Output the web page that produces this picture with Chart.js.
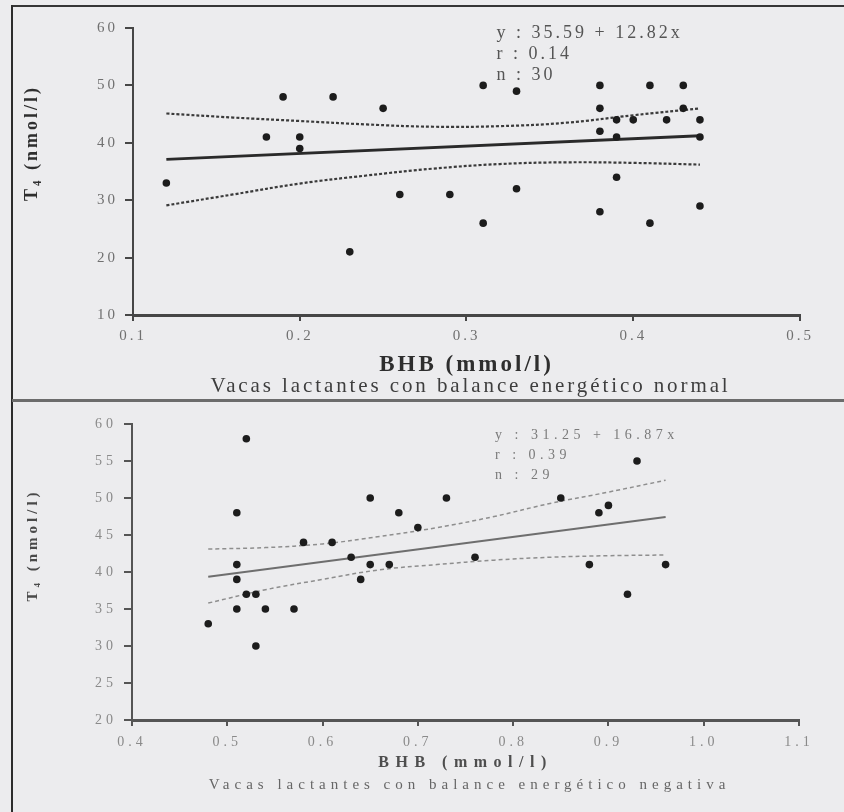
<!DOCTYPE html>
<html>
<head>
<meta charset="utf-8">
<script src="https://cdn.jsdelivr.net/npm/chart.js@4.4.1/dist/chart.umd.min.js"></script>
<style>
  body { margin: 0; background: #ececee; }
  #sheet { position: relative; width: 844px; height: 812px; background: #ececee; overflow: hidden; }
  canvas { position: absolute; left: 0; }
  #top { top: 0; }
  #bottom { top: 401px; }
  .rule { position: absolute; }
  .rule.top { left: 11px; top: 5px; width: 833px; height: 2px; background: #363636; }
  .rule.left { left: 11px; top: 5px; width: 2px; height: 807px; background: #2c2c2c; }
  .rule.mid { left: 12px; top: 399px; width: 832px; height: 3px; background: #6c6c6c; }
</style>
</head>
<body>
<div id="sheet">
  <canvas id="top" width="844" height="400"></canvas>
  <canvas id="bottom" width="844" height="411"></canvas>
  <div class="rule top"></div>
  <div class="rule left"></div>
  <div class="rule mid"></div>
</div>
<script>
// --- balance energético normal (n = 30)
let normBHB = [0.12, 0.18, 0.19, 0.20, 0.20, 0.22, 0.23, 0.25, 0.26, 0.29, 0.31, 0.31, 0.33, 0.33, 0.38,
               0.38, 0.38, 0.38, 0.39, 0.39, 0.39, 0.40, 0.41, 0.41, 0.42, 0.43, 0.43, 0.44, 0.44, 0.44];
let normT4 = [33, 41, 48, 41, 39, 48, 21, 46, 31, 31, 50, 26, 49, 32, 50,
              46, 42, 28, 44, 41, 34, 44, 50, 26, 44, 50, 46, 44, 41, 29];
let normFit = [35.59, 12.82];      // a, b
let normR = 0.14;
let normRange = [0.12, 0.44];
let normBandX = [0.12, 0.16, 0.20, 0.24, 0.28, 0.32, 0.36, 0.40, 0.44];
let normUpper = [45.1, 44.4, 43.8, 43.2, 42.8, 42.9, 43.5, 44.8, 46.0];
let normLower = [29.1, 31.0, 32.9, 34.3, 35.5, 36.3, 36.6, 36.5, 36.2];
let normXTicks = [0.1, 0.2, 0.3, 0.4, 0.5];
let normXLabels = ['0.1', '0.2', '0.3', '0.4', '0.5'];
let normYTicks = [10, 20, 30, 40, 50, 60];

// --- balance energético negativo (n = 29)
let negBHB = [0.48, 0.51, 0.51, 0.51, 0.51, 0.52, 0.52, 0.53, 0.53, 0.54, 0.57, 0.58, 0.61, 0.63, 0.64,
              0.65, 0.65, 0.67, 0.68, 0.70, 0.73, 0.76, 0.85, 0.88, 0.89, 0.90, 0.92, 0.93, 0.96];
let negT4 = [33, 48, 41, 39, 35, 58, 37, 37, 30, 35, 35, 44, 44, 42, 39,
             50, 41, 41, 48, 46, 50, 42, 50, 41, 48, 49, 37, 55, 41];
let negFit = [31.25, 16.87];
let negR = 0.39;
let negRange = [0.48, 0.96];
let negBandX = [0.48, 0.54, 0.60, 0.66, 0.72, 0.78, 0.84, 0.90, 0.96];
let negUpper = [43.1, 43.3, 43.8, 44.8, 46.0, 47.5, 49.3, 50.8, 52.4];
let negLower = [35.8, 37.6, 39.0, 40.3, 41.0, 41.6, 42.0, 42.2, 42.3];
let negXTicks = [0.4, 0.5, 0.6, 0.7, 0.8, 0.9, 1.0, 1.1];
let negXLabels = ['0.4', '0.5', '0.6', '0.7', '0.8', '0.9', '1.0', '1.1'];
let negYTicks = [20, 25, 30, 35, 40, 45, 50, 55, 60];

const SERIF = "'Liberation Serif', 'Times New Roman', serif";

function pairs(xs, ys) {
  return xs.map((x, i) => ({ x: x, y: ys[i] }));
}

function fitLine(fit, range) {
  return range.map(x => ({ x: x, y: fit[0] + fit[1] * x }));
}

// axis titles, caption and the regression box are drawn here so the
// letter spacing of the scanned figure can be kept
const panelText = {
  id: 'panelText',
  beforeUpdate(chart, args, opts) { chart.ctx.letterSpacing = opts.tickSpacing; },
  beforeDraw(chart, args, opts) { chart.ctx.letterSpacing = opts.tickSpacing; },
  afterDraw(chart, args, opts) {
    let ctx = chart.ctx;
    let a = chart.chartArea;
    let put = (text, x, y, t, align, rotate) => {
      ctx.save();
      ctx.letterSpacing = t.spacing;
      ctx.font = t.font;
      ctx.fillStyle = t.color;
      ctx.textAlign = align;
      ctx.textBaseline = 'middle';
      ctx.translate(x, y);
      if (rotate) ctx.rotate(-Math.PI / 2);
      ctx.fillText(text, 0, 0);
      ctx.restore();
    };
    let cx = (a.left + a.right) / 2;
    put(opts.xTitle.text, cx, a.bottom + opts.xTitle.dy, opts.xTitle, 'center');
    put(opts.caption.text, cx + 4, a.bottom + opts.caption.dy, opts.caption, 'center');
    put(opts.yTitle.text, opts.yTitle.x, a.top + opts.yTitle.dy, opts.yTitle, 'center', true);
    let bx = chart.scales.x.getPixelForValue(opts.box.at);
    opts.box.lines.forEach((line, i) => {
      put(line, bx, a.top + opts.box.dy + i * opts.box.gap, opts.box, 'left');
    });
  }
};

function makeChart(id, cfg) {
  let axisColor = cfg.axisColor;
  return new Chart(document.getElementById(id), {
    type: 'scatter',
    data: {
      datasets: [
        {
          data: pairs(cfg.bhb, cfg.t4),
          pointRadius: 3.8,
          pointBackgroundColor: '#1c1c1c',
          pointBorderWidth: 0,
          order: 0
        },
        {
          data: fitLine(cfg.fit, cfg.range),
          showLine: true,
          pointRadius: 0,
          borderColor: cfg.lineColor,
          borderWidth: cfg.lineWidth,
          order: 1
        },
        {
          data: pairs(cfg.bandX, cfg.upper),
          showLine: true,
          pointRadius: 0,
          tension: 0.4,
          borderColor: cfg.bandColor,
          borderWidth: cfg.bandWidth,
          borderDash: cfg.dash,
          order: 2
        },
        {
          data: pairs(cfg.bandX, cfg.lower),
          showLine: true,
          pointRadius: 0,
          tension: 0.4,
          borderColor: cfg.bandColor,
          borderWidth: cfg.bandWidth,
          borderDash: cfg.dash,
          order: 2
        }
      ]
    },
    options: {
      responsive: false,
      devicePixelRatio: 1,
      animation: false,
      layout: { padding: cfg.padding },
      plugins: {
        legend: { display: false },
        tooltip: { enabled: false },
        panelText: cfg.text
      },
      scales: {
        x: {
          type: 'linear',
          min: cfg.xTicks[0],
          max: cfg.xTicks[cfg.xTicks.length - 1],
          afterBuildTicks: s => { s.ticks = cfg.xTicks.map(v => ({ value: v })); },
          afterFit: s => { s.height = cfg.xHeight; },
          border: { color: axisColor, width: cfg.xAxisWidth },
          grid: { drawOnChartArea: false, tickLength: 6, color: axisColor, lineWidth: 2 },
          ticks: {
            padding: cfg.xPad,
            maxRotation: 0,
            color: cfg.tickColor,
            font: { family: SERIF, size: cfg.tickSize },
            callback: (v, i) => cfg.xLabels[i]
          }
        },
        y: {
          min: cfg.yTicks[0],
          max: cfg.yTicks[cfg.yTicks.length - 1],
          afterBuildTicks: s => { s.ticks = cfg.yTicks.map(v => ({ value: v })); },
          afterFit: s => { s.width = cfg.yWidth; },
          border: { color: axisColor, width: 2 },
          grid: { drawOnChartArea: false, tickLength: 8, color: axisColor, lineWidth: 2 },
          ticks: {
            padding: 7,
            color: cfg.tickColor,
            font: { family: SERIF, size: cfg.tickSize },
            callback: v => String(v)
          }
        }
      }
    },
    plugins: [panelText]
  });
}

makeChart('top', {
  bhb: normBHB, t4: normT4, fit: normFit, range: normRange,
  bandX: normBandX, upper: normUpper, lower: normLower,
  xTicks: normXTicks, xLabels: normXLabels, yTicks: normYTicks,
  padding: { top: 28, right: 44, left: 0, bottom: 0 },
  xHeight: 85, yWidth: 133, xPad: 6, xAxisWidth: 3,
  axisColor: '#464646', tickColor: '#707070', tickSize: 15,
  lineColor: '#2a2a2a', lineWidth: 2.8,
  bandColor: '#3a3a3a', bandWidth: 2.2, dash: [3, 2],
  text: {
    tickSpacing: '3px',
    xTitle: { text: 'BHB (mmol/l)', dy: 50, font: 'bold 23px ' + SERIF, color: '#2e2e2e', spacing: '3px' },
    caption: { text: 'Vacas lactantes con balance energético normal', dy: 71, font: '21px ' + SERIF, color: '#3e3e3e', spacing: '2.9px' },
    yTitle: { text: 'T₄ (nmol/l)', x: 32, dy: 115, font: 'bold 18px ' + SERIF, color: '#2e2e2e', spacing: '3px' },
    box: {
      at: 0.318, dy: 5, gap: 21, font: '18px ' + SERIF, color: '#555555', spacing: '3px',
      lines: ['y : ' + normFit[0].toFixed(2) + ' + ' + normFit[1].toFixed(2) + 'x',
              'r : ' + normR.toFixed(2), 'n : ' + normBHB.length]
    }
  }
});

makeChart('bottom', {
  bhb: negBHB, t4: negT4, fit: negFit, range: negRange,
  bandX: negBandX, upper: negUpper, lower: negLower,
  xTicks: negXTicks, xLabels: negXLabels, yTicks: negYTicks,
  padding: { top: 23, right: 45, left: 0, bottom: 0 },
  xHeight: 92, yWidth: 132, xPad: 8, xAxisWidth: 3,
  axisColor: '#555555', tickColor: '#8a8a8a', tickSize: 14,
  lineColor: '#6e6e6e', lineWidth: 2,
  bandColor: '#8e8e8e', bandWidth: 1.5, dash: [4, 3],
  text: {
    tickSpacing: '4px',
    xTitle: { text: 'BHB (mmol/l)', dy: 43, font: 'bold 16px ' + SERIF, color: '#4e4e4e', spacing: '6.5px' },
    caption: { text: 'Vacas lactantes con balance energético negativa', dy: 65, font: '15px ' + SERIF, color: '#666666', spacing: '5px' },
    yTitle: { text: 'T₄ (nmol/l)', x: 33, dy: 121, font: 'bold 15px ' + SERIF, color: '#4a4a4a', spacing: '4px' },
    box: {
      at: 0.781, dy: 11, gap: 20, font: '14px ' + SERIF, color: '#7a7a7a', spacing: '4.5px',
      lines: ['y : ' + negFit[0].toFixed(2) + ' + ' + negFit[1].toFixed(2) + 'x',
              'r : ' + negR.toFixed(2), 'n : ' + negBHB.length]
    }
  }
});
</script>
</body>
</html>
